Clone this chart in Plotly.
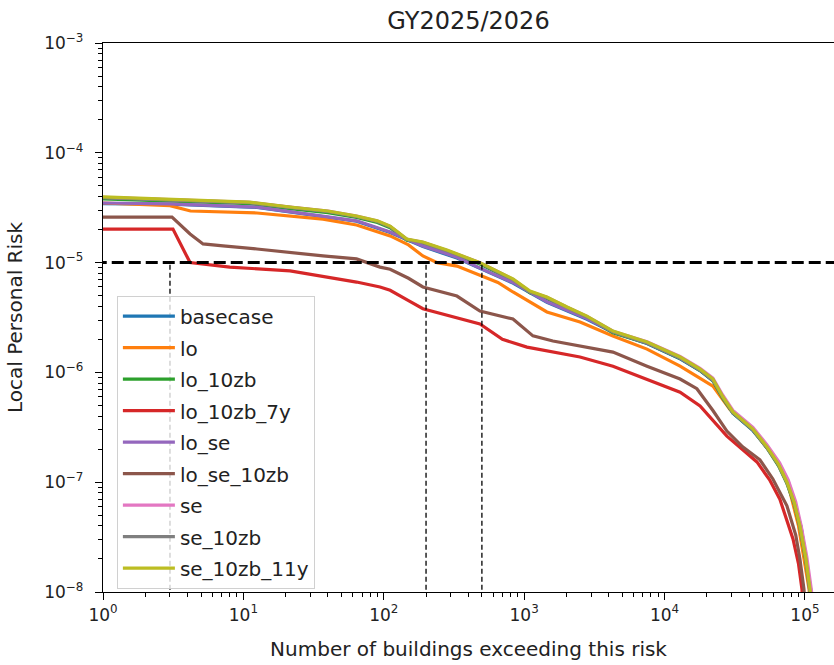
import plotly.graph_objects as go

# ---------------- data ----------------
series_names = ["basecase", "lo", "lo_10zb", "lo_10zb_7y", "lo_se",
                "lo_se_10zb", "se", "se_10zb", "se_10zb_11y"]
series_colors = ["#1f77b4", "#ff7f0e", "#2ca02c", "#d62728", "#9467bd",
                 "#8c564b", "#e377c2", "#7f7f7f", "#bcbd22"]

# top (olive) curve
x_se_10zb_11y = [1, 3.0, 11.1, 21.5, 40, 64, 90, 111, 146, 190, 282, 484, 650, 832, 1100,
                 1450, 2020, 2800, 4290, 7500, 12900, 17900, 22100, 26000, 30700, 36000,
                 42600, 53600, 65000, 74500, 84000, 92100, 101000, 108700, 116000]
y_se_10zb_11y = [3.96e-5, 3.79e-5, 3.56e-5, 3.21e-5, 2.95e-5, 2.66e-5, 2.4e-5, 2.15e-5,
                 1.64e-5, 1.54e-5, 1.3e-5, 1.0e-5, 8.3e-6, 7.1e-6, 5.5e-6, 4.86e-6,
                 3.94e-6, 3.26e-6, 2.38e-6, 1.89e-6, 1.38e-6, 1.07e-6, 8.7e-7, 6.0e-7,
                 4.36e-7, 3.7e-7, 3.05e-7, 2.1e-7, 1.45e-7, 1.0e-7, 6.5e-8, 4.0e-8,
                 2.1e-8, 1.06e-8, 5e-9]

x_se_10zb = list(x_se_10zb_11y)
y_se_10zb = [3.9e-5, 3.75e-5, 3.52e-5, 3.18e-5, 2.92e-5, 2.63e-5, 2.37e-5, 2.12e-5,
             1.62e-5, 1.52e-5, 1.28e-5, 9.9e-6, 8.2e-6, 7.0e-6, 5.4e-6, 4.8e-6,
             3.9e-6, 3.2e-6, 2.35e-6, 1.87e-6, 1.36e-6, 1.06e-6, 8.6e-7, 5.9e-7,
             4.3e-7, 3.65e-7, 3.0e-7, 2.05e-7, 1.42e-7, 9.8e-8, 6.4e-8, 3.9e-8,
             2.05e-8, 1.05e-8, 5e-9]

x_se = [1, 3.0, 11.1, 21.5, 40, 64, 90, 111, 146, 190, 282, 484, 650, 832, 1100,
        1450, 2020, 2800, 4290, 7500, 12900, 17900, 22100, 26000, 30700, 36000,
        42600, 53600, 66000, 76000, 86000, 94000, 103000, 111000, 118000]
y_se = [3.92e-5, 3.77e-5, 3.54e-5, 3.2e-5, 2.94e-5, 2.65e-5, 2.39e-5, 2.14e-5,
        1.63e-5, 1.53e-5, 1.29e-5, 1.0e-5, 8.25e-6, 7.05e-6, 5.45e-6, 4.85e-6,
        3.92e-6, 3.24e-6, 2.37e-6, 1.9e-6, 1.4e-6, 1.09e-6, 8.9e-7, 6.2e-7,
        4.5e-7, 3.8e-7, 3.15e-7, 2.2e-7, 1.5e-7, 1.05e-7, 6.6e-8, 4.0e-8,
        2.1e-8, 1.06e-8, 5e-9]

x_lo_se = [1, 3.0, 12.5, 21.5, 64, 111, 190, 332, 484, 832, 1452, 2800, 4290, 7500,
           12900, 17900, 22100, 30700, 42600, 59100, 76000, 94000, 110000, 117000]
y_lo_se = [3.49e-5, 3.42e-5, 3.2e-5, 2.9e-5, 2.4e-5, 1.9e-5, 1.42e-5, 1.12e-5, 8.9e-6,
           6.6e-6, 4.4e-6, 3.1e-6, 2.35e-6, 1.85e-6, 1.35e-6, 1.05e-6, 8.5e-7,
           4.3e-7, 3.0e-7, 1.8e-7, 1.02e-7, 3.9e-8, 1.05e-8, 5e-9]

x_basecase = list(x_lo_se)
y_basecase = [3.45e-5, 3.4e-5, 3.18e-5, 2.88e-5, 2.38e-5, 1.88e-5, 1.4e-5, 1.1e-5, 8.8e-6,
              6.5e-6, 4.35e-6, 3.05e-6, 2.32e-6, 1.83e-6, 1.33e-6, 1.04e-6, 8.4e-7,
              4.25e-7, 2.95e-7, 1.78e-7, 1.0e-7, 3.85e-8, 1.04e-8, 5e-9]

x_lo_10zb = list(x_se_10zb_11y)
y_lo_10zb = [3.8e-5, 3.65e-5, 3.45e-5, 3.1e-5, 2.85e-5, 2.58e-5, 2.32e-5, 2.08e-5,
             1.6e-5, 1.5e-5, 1.26e-5, 9.7e-6, 8.1e-6, 6.9e-6, 5.3e-6, 4.7e-6,
             3.85e-6, 3.15e-6, 2.3e-6, 1.84e-6, 1.34e-6, 1.04e-6, 8.4e-7, 5.8e-7,
             4.25e-7, 3.6e-7, 2.98e-7, 2.05e-7, 1.4e-7, 9.7e-8, 6.3e-8, 3.9e-8,
             2.0e-8, 1.04e-8, 5e-9]

x_lo = [1, 3.0, 4.2, 12.5, 36.9, 64, 111, 150, 190, 240, 332, 484, 650, 832, 1150, 1452,
        2500, 4290, 7500, 12900, 17000, 22100, 29200, 42600, 59100, 74500, 90000,
        107000, 113000]
y_lo = [3.49e-5, 3.3e-5, 2.95e-5, 2.83e-5, 2.49e-5, 2.2e-5, 1.75e-5, 1.45e-5, 1.15e-5,
        1.0e-5, 9.3e-6, 7.7e-6, 6.6e-6, 5.4e-6, 4.2e-6, 3.55e-6, 2.88e-6, 2.15e-6,
        1.63e-6, 1.14e-6, 9.2e-7, 7.5e-7, 4.6e-7, 3.0e-7, 1.75e-7, 1.05e-7, 4.0e-8,
        1.06e-8, 5e-9]

x_lo_se_10zb = [1, 3.1, 4.17, 5.16, 7.16, 12.5, 36.9, 64, 94, 111, 150, 190, 332, 484,
                832, 1155, 1603, 4290, 7500, 12900, 17000, 22100, 27800, 36000, 47800,
                59100, 74400, 86000, 92100, 98400, 102000]
y_lo_se_10zb = [2.6e-5, 2.6e-5, 1.82e-5, 1.48e-5, 1.42e-5, 1.33e-5, 1.15e-5, 1.08e-5,
                9.1e-6, 8.7e-6, 7.2e-6, 6.0e-6, 4.96e-6, 3.62e-6, 3.06e-6, 2.15e-6,
                1.93e-6, 1.53e-6, 1.14e-6, 8.7e-7, 7.1e-7, 4.5e-7, 2.92e-7, 2.1e-7,
                1.6e-7, 1.07e-7, 6.1e-8, 3.3e-8, 2.0e-8, 1.06e-8, 5e-9]

x_lo_10zb_7y = [1, 3.15, 4.17, 8.0, 21.5, 64, 94, 111, 150, 190, 484, 700, 1047, 2497,
                4290, 6680, 12900, 17900, 27800, 45500, 56000, 66300, 82200, 90000,
                95250, 98000]
y_lo_10zb_7y = [2.02e-5, 2.02e-5, 1.0e-5, 9.1e-6, 8.4e-6, 6.65e-6, 6.0e-6, 5.6e-6,
                4.5e-6, 3.8e-6, 2.76e-6, 2.0e-6, 1.7e-6, 1.38e-6, 1.14e-6, 9.1e-7,
                6.6e-7, 4.94e-7, 2.63e-7, 1.53e-7, 1.05e-7, 7.0e-8, 3.04e-8, 1.8e-8,
                1.06e-8, 5e-9]

series_x = [x_basecase, x_lo, x_lo_10zb, x_lo_10zb_7y, x_lo_se,
            x_lo_se_10zb, x_se, x_se_10zb, x_se_10zb_11y]
series_y = [y_basecase, y_lo, y_lo_10zb, y_lo_10zb_7y, y_lo_se,
            y_lo_se_10zb, y_se, y_se_10zb, y_se_10zb_11y]

threshold_risk = 1e-5
marker_buildings = [3, 200, 500]

x_tick_vals = [1, 10, 100, 1000, 10000, 100000]
x_tick_text = ["10<sup>0</sup>", "10<sup>1</sup>", "10<sup>2</sup>",
               "10<sup>3</sup>", "10<sup>4</sup>", "10<sup>5</sup>"]
y_tick_vals = [1e-8, 1e-7, 1e-6, 1e-5, 1e-4, 1e-3]
y_tick_text = ["10<sup>\u22128</sup>", "10<sup>\u22127</sup>", "10<sup>\u22126</sup>",
               "10<sup>\u22125</sup>", "10<sup>\u22124</sup>", "10<sup>\u22123</sup>"]

x_minor = [m * 10 ** e for e in range(0, 6) for m in range(2, 10)]
y_minor = [m * 10.0 ** e for e in range(-8, -3) for m in range(2, 10)]

X_RANGE = [0, 5.207]
Y_RANGE = [-8, -3]
FONT = "DejaVu Sans"
TXT = "#222222"

fig = go.Figure()
for i, (name, color) in enumerate(zip(series_names, series_colors)):
    fig.add_trace(go.Scatter(
        x=series_x[i], y=series_y[i], mode="lines", name=name,
        legendgroup=name,
        line=dict(color=color, width=3.2),
    ))

# threshold line
fig.add_trace(go.Scatter(
    x=[0.5, 1e6], y=[threshold_risk, threshold_risk], mode="lines",
    line=dict(color="black", width=3, dash="12px,5px"),
    showlegend=False, hoverinfo="skip"))

for xb in marker_buildings:
    fig.add_trace(go.Scatter(
        x=[xb, xb], y=[1e-9, threshold_risk], mode="lines",
        line=dict(color="black", width=1.3, dash="5px,3px"),
        showlegend=False, hoverinfo="skip"))

# invisible trace to carry the minor-tick overlay axes
fig.add_trace(go.Scatter(
    x=[10], y=[1e-5], xaxis="x2", yaxis="y2", mode="markers",
    marker=dict(opacity=0), showlegend=False, hoverinfo="skip"))

fig.update_layout(
    width=834, height=665,
    margin=dict(l=103, r=0, t=43, b=73),
    paper_bgcolor="white", plot_bgcolor="white",
    font=dict(family=FONT, color=TXT),
    title=dict(text="GY2025/2026", x=0.5, xref="paper", xanchor="center",
               y=1 - 21 / 665, yref="container", yanchor="middle",
               font=dict(family=FONT, size=24, color=TXT)),
    showlegend=True,
    legend=dict(x=0.019, y=0.006, xanchor="left", yanchor="bottom",
                bgcolor="rgba(255,255,255,0.8)", bordercolor="#d0d0d0", borderwidth=1,
                font=dict(family=FONT, size=20, color=TXT),
                tracegroupgap=2.5, itemwidth=52),
    xaxis2=dict(type="log", range=X_RANGE, overlaying="x", anchor="y", side="bottom",
                tickmode="array", tickvals=x_minor, ticks="outside", ticklen=4,
                tickwidth=1, tickcolor="black", showticklabels=False,
                showline=False, showgrid=False, zeroline=False),
    yaxis2=dict(type="log", range=Y_RANGE, overlaying="y", anchor="x", side="left",
                tickmode="array", tickvals=y_minor, ticks="outside", ticklen=4,
                tickwidth=1, tickcolor="black", showticklabels=False,
                showline=False, showgrid=False, zeroline=False),
)

fig.layout.xaxis.update(
    type="log", range=X_RANGE,
    tickmode="array", tickvals=x_tick_vals, ticktext=x_tick_text,
    ticks="outside", ticklen=7, tickwidth=1.2, tickcolor="black",
    showline=True, linecolor="black", linewidth=1.3, mirror=True,
    showgrid=False, zeroline=False, automargin=False,
    tickfont=dict(family=FONT, size=17, color=TXT),
    title=dict(text="Number of buildings exceeding this risk",
               font=dict(family=FONT, size=20, color=TXT), standoff=18),
)
fig.layout.yaxis.update(
    type="log", range=Y_RANGE,
    tickmode="array", tickvals=y_tick_vals, ticktext=y_tick_text,
    ticks="outside", ticklen=7, tickwidth=1.2, tickcolor="black",
    showline=True, linecolor="black", linewidth=1.3, mirror=True,
    showgrid=False, zeroline=False, automargin=False, ticklabelstandoff=8,
    tickfont=dict(family=FONT, size=17, color=TXT),
    title=dict(text="Local Personal Risk",
               font=dict(family=FONT, size=20, color=TXT), standoff=16),
)

fig.write_html("out.html")
